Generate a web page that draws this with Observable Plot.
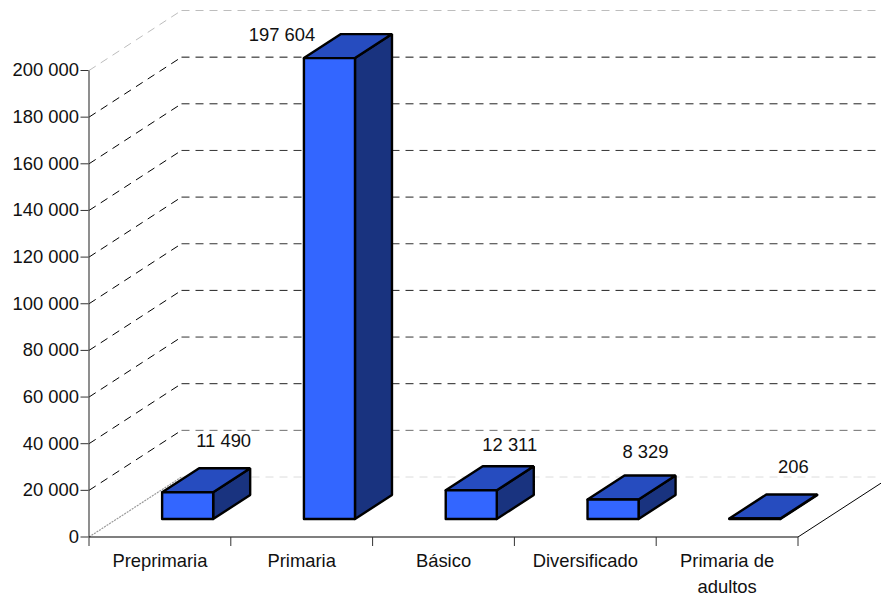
<!DOCTYPE html>
<html><head><meta charset="utf-8">
<style>html,body{margin:0;padding:0;background:#fff}svg{display:block}</style>
<script src="https://cdn.jsdelivr.net/npm/d3@7"></script>
<script src="https://cdn.jsdelivr.net/npm/@observablehq/plot@0.6"></script>
</head><body><div id="chart"></div>
<script>
const categories = ["Preprimaria","Primaria","Básico","Diversificado","Primaria de\nadultos"];
const values = [11490,197604,12311,8329,206];
const valueLabels = ["11 490","197 604","12 311","8 329","206"];
const yTicks = [0,20000,40000,60000,80000,100000,120000,140000,160000,180000,200000];
const xTicks = [0,1,2,3,4,5];
const gridTones = ["#dcdcdc","#6e6e6e","#222","#333","#222","#333","#222","#333","#222","#111","#bdbdbd"];
const labelNudgeX = [17.5,-66,20,14,20];
const labelNudgeY = [-39,-11,-33,-35,-39];

// oblique projection: one unit of depth, in data units of each scale
const depthX = 92.5/141.8, depthY = 60/46.65*20000;
const X = (c,d) => c + d*depthX;
const Y = (v,d) => v + d*depthY;
const barW = 0.36, d0 = 0.3, d1 = 0.7;
const pxX = 1/141.8, pxY = 20000/46.65;

const front=[], top_=[], side=[];
values.forEach((v,i)=>{
  const a=i+.5-barW/2, b=i+.5+barW/2;
  const add=(arr,pts)=>pts.concat([pts[0]]).forEach(p=>arr.push({bar:i,x:p[0],y:p[1]}));
  add(front,[[X(a,d0),Y(0,d0)],[X(b,d0),Y(0,d0)],[X(b,d0),Y(v,d0)],[X(a,d0),Y(v,d0)]]);
  add(top_,[[X(a,d0),Y(v,d0)],[X(b,d0),Y(v,d0)],[X(b,d1),Y(v,d1)],[X(a,d1),Y(v,d1)]]);
  add(side,[[X(b,d0),Y(0,d0)],[X(b,d1),Y(0,d1)],[X(b,d1),Y(v,d1)],[X(b,d0),Y(v,d0)]]);
});
const labels = values.map((v,i)=>({
  x:X(i+.5,.5)+labelNudgeX[i]*pxX,
  y:Y(v,d0)+(-labelNudgeY[i]+12)*pxY, t:valueLabels[i]
}));
const wall = yTicks.map((v,i)=>({v,c:gridTones[i]}));
const sideWall = wall.slice(1).map(d=>({v:d.v,c:d.v===200000?"#bdbdbd":"#000"}));
const faceMark=(d,fill)=>Plot.line(d,{x:"x",y:"y",z:"bar",fill,stroke:"#000",strokeWidth:2.4,strokeLinejoin:"miter",curve:"linear"});
const tf = d => d3.format(",")(d).replace(/,/g," ");

const chart = Plot.plot({
  width:881,height:597,
  marginLeft:88.5,marginRight:83.5,marginTop:70,marginBottom:60.5,
  style:{fontFamily:"'Liberation Sans',Arial,sans-serif",fontSize:"18.4px",background:"#fff",color:"#111"},
  x:{type:"linear",domain:[0,5],axis:null},
  y:{type:"linear",domain:[0,200000]},
  color:{type:"identity"},
  marks:[
    // back wall and side wall gridlines
    Plot.link(wall,{x1:()=>X(0,1),x2:()=>X(5,1),y1:d=>Y(d.v,1),y2:d=>Y(d.v,1),stroke:"c",strokeDasharray:"8 6",strokeWidth:1}),
    Plot.link(sideWall,{x1:()=>0,x2:()=>X(0,1),y1:"v",y2:d=>Y(d.v,1),stroke:"c",strokeDasharray:"8 6",strokeWidth:1}),
    // floor edges
    Plot.link([0],{x1:()=>0,x2:()=>X(0,1),y1:()=>0,y2:()=>Y(0,1),stroke:"#999",strokeDasharray:"2 1",strokeWidth:1.2}),
    Plot.link([0],{x1:()=>5,x2:()=>X(5,1),y1:()=>0,y2:()=>Y(0,1),stroke:"#000",strokeWidth:1}),
    // axes
    Plot.link([0],{x1:()=>0,x2:()=>0,y1:()=>0,y2:()=>200000,stroke:"#444",strokeWidth:1.2}),
    Plot.link([0],{x1:()=>0,x2:()=>5,y1:()=>0,y2:()=>0,stroke:"#000",strokeWidth:1.2}),
    Plot.axisY({ticks:yTicks,tickSize:8,tickPadding:2,tickFormat:tf,label:null,fontSize:18.4,stroke:"#333"}),
    Plot.link(xTicks,{x1:d=>d,x2:d=>d,y1:()=>0,y2:()=>-9*pxY,stroke:"#333",strokeWidth:1}),
    Plot.text(categories,{x:(d,i)=>i+.5,y:()=>0,text:d=>d,lineAnchor:"top",dy:11,lineHeight:1.42,fontSize:18.4,fill:"#111"}),
    // bars
    faceMark(side,"#19337F"),
    faceMark(top_,"#264CBF"),
    faceMark(front,"#3366FF"),
    Plot.text(labels,{x:"x",y:"y",text:"t",fontSize:18.4,fill:"#111"})
  ]
});
document.getElementById("chart").append(chart);
</script></body></html>
